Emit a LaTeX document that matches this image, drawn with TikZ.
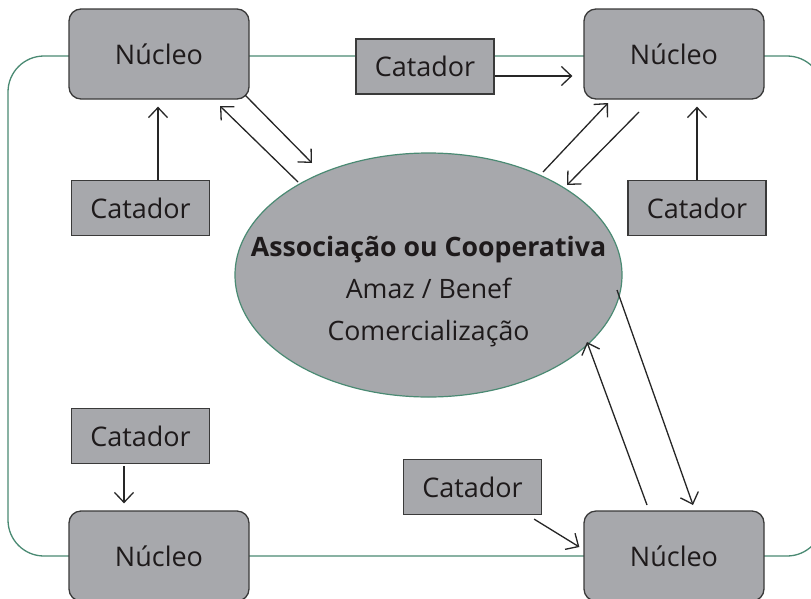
\documentclass[tikz,border=0pt]{standalone}
\usepackage{fontspec}
\setmainfont{Open Sans}
\usetikzlibrary{shapes.geometric,arrows.meta}
\definecolor{boxgray}{HTML}{A7A8AC}
\definecolor{edgegray}{HTML}{3A3A3A}
\definecolor{framegreen}{HTML}{4A8A73}
\definecolor{txt}{HTML}{1E1A1B}
\tikzset{
  nucleo/.style={draw=edgegray, line width=1.3pt, fill=boxgray, rounded corners=12pt,
    minimum width=180pt, minimum height=90pt, inner sep=0pt, text=txt,
    font=\fontsize{27}{32}\selectfont},
  catador/.style={draw=edgegray, line width=1.2pt, fill=boxgray,
    minimum width=138pt, minimum height=55pt, inner sep=0pt, text=txt,
    font=\fontsize{27}{32}\selectfont},
  arr/.style={draw=black!85, line width=1.3pt, -{Straight Barb[length=10pt,width=19pt,line width=1.3pt]}},
  frame/.style={draw=framegreen, line width=1.3pt, rounded corners=36pt},
}
\begin{document}
\begin{tikzpicture}[x=1pt,y=-1pt]
\useasboundingbox (0,0) rectangle (811,598);
\clip (0,0) rectangle (811,598);
\fill[white] (0,0) rectangle (811,598);
% outer frame
\draw[frame] (8,56) rectangle (823,556);
% nodes
\node[nucleo] (NTL) at (159,54) {Núcleo};
\node[nucleo] (NTR) at (674,54) {Núcleo};
\node[nucleo] (NBL) at (159,556) {Núcleo};
\node[nucleo] (NBR) at (674,556) {Núcleo};
\node[catador] (CTM) at (425,66.5) {Catador};
\node[catador] (CL) at (140.5,208) {Catador};
\node[catador] (CR) at (697,208) {Catador};
\node[catador] (CBL) at (140.5,436) {Catador};
\node[catador] (CBR) at (472.5,487) {Catador};
\node[ellipse, draw=framegreen, line width=1.2pt, fill=boxgray,
      minimum width=387pt, minimum height=244pt, inner sep=0pt] (E) at (428.5,275) {};
\node[align=center, text=txt, font=\fontsize{26.7}{42}\selectfont] (T) at (428.5,292)
  {\textbf{Associação ou Cooperativa}\\Amaz / Benef\\Comercialização};
% arrow end points
\coordinate (a1s) at (245,95);   \coordinate (a1e) at (312,163);
\coordinate (a2s) at (298,182);  \coordinate (a2e) at (220,106);
\coordinate (a3s) at (543,172);  \coordinate (a3e) at (608,103);
\coordinate (a4s) at (639,112);  \coordinate (a4e) at (567,185);
\coordinate (a5s) at (617,290);  \coordinate (a5e) at (693,505);
\coordinate (a6s) at (647,505);  \coordinate (a6e) at (587,342);
% catador arrows
\draw[arr, shorten >=7pt] ([xshift=17.5pt]CL.north) -- ([xshift=17.5pt]CL.north |- NTL.south);
\draw[arr, shorten >=7pt] (CR.north) -- (CR.north |- NTR.south);
\draw[arr, shorten >=11pt] ([yshift=-9.5pt]CTM.east) -- ([yshift=-9.5pt]CTM.east -| NTR.west);
\draw[arr, shorten >=7pt] ([xshift=-16.5pt,yshift=-2pt]CBL.south) -- ([xshift=-16.5pt]CBL.south |- NBL.north);
\draw[arr] ([shift={(-8pt,-4pt)}]CBR.south east) -- ([shift={(-4pt,9pt)}]NBR.west);
% nucleo - association arrows
\draw[arr] (a1s) -- (a1e);
\draw[arr] (a2s) -- (a2e);
\draw[arr] (a3s) -- (a3e);
\draw[arr] (a4s) -- (a4e);
\draw[arr] (a5s) -- (a5e);
\draw[arr] (a6s) -- (a6e);
\end{tikzpicture}
\end{document}
